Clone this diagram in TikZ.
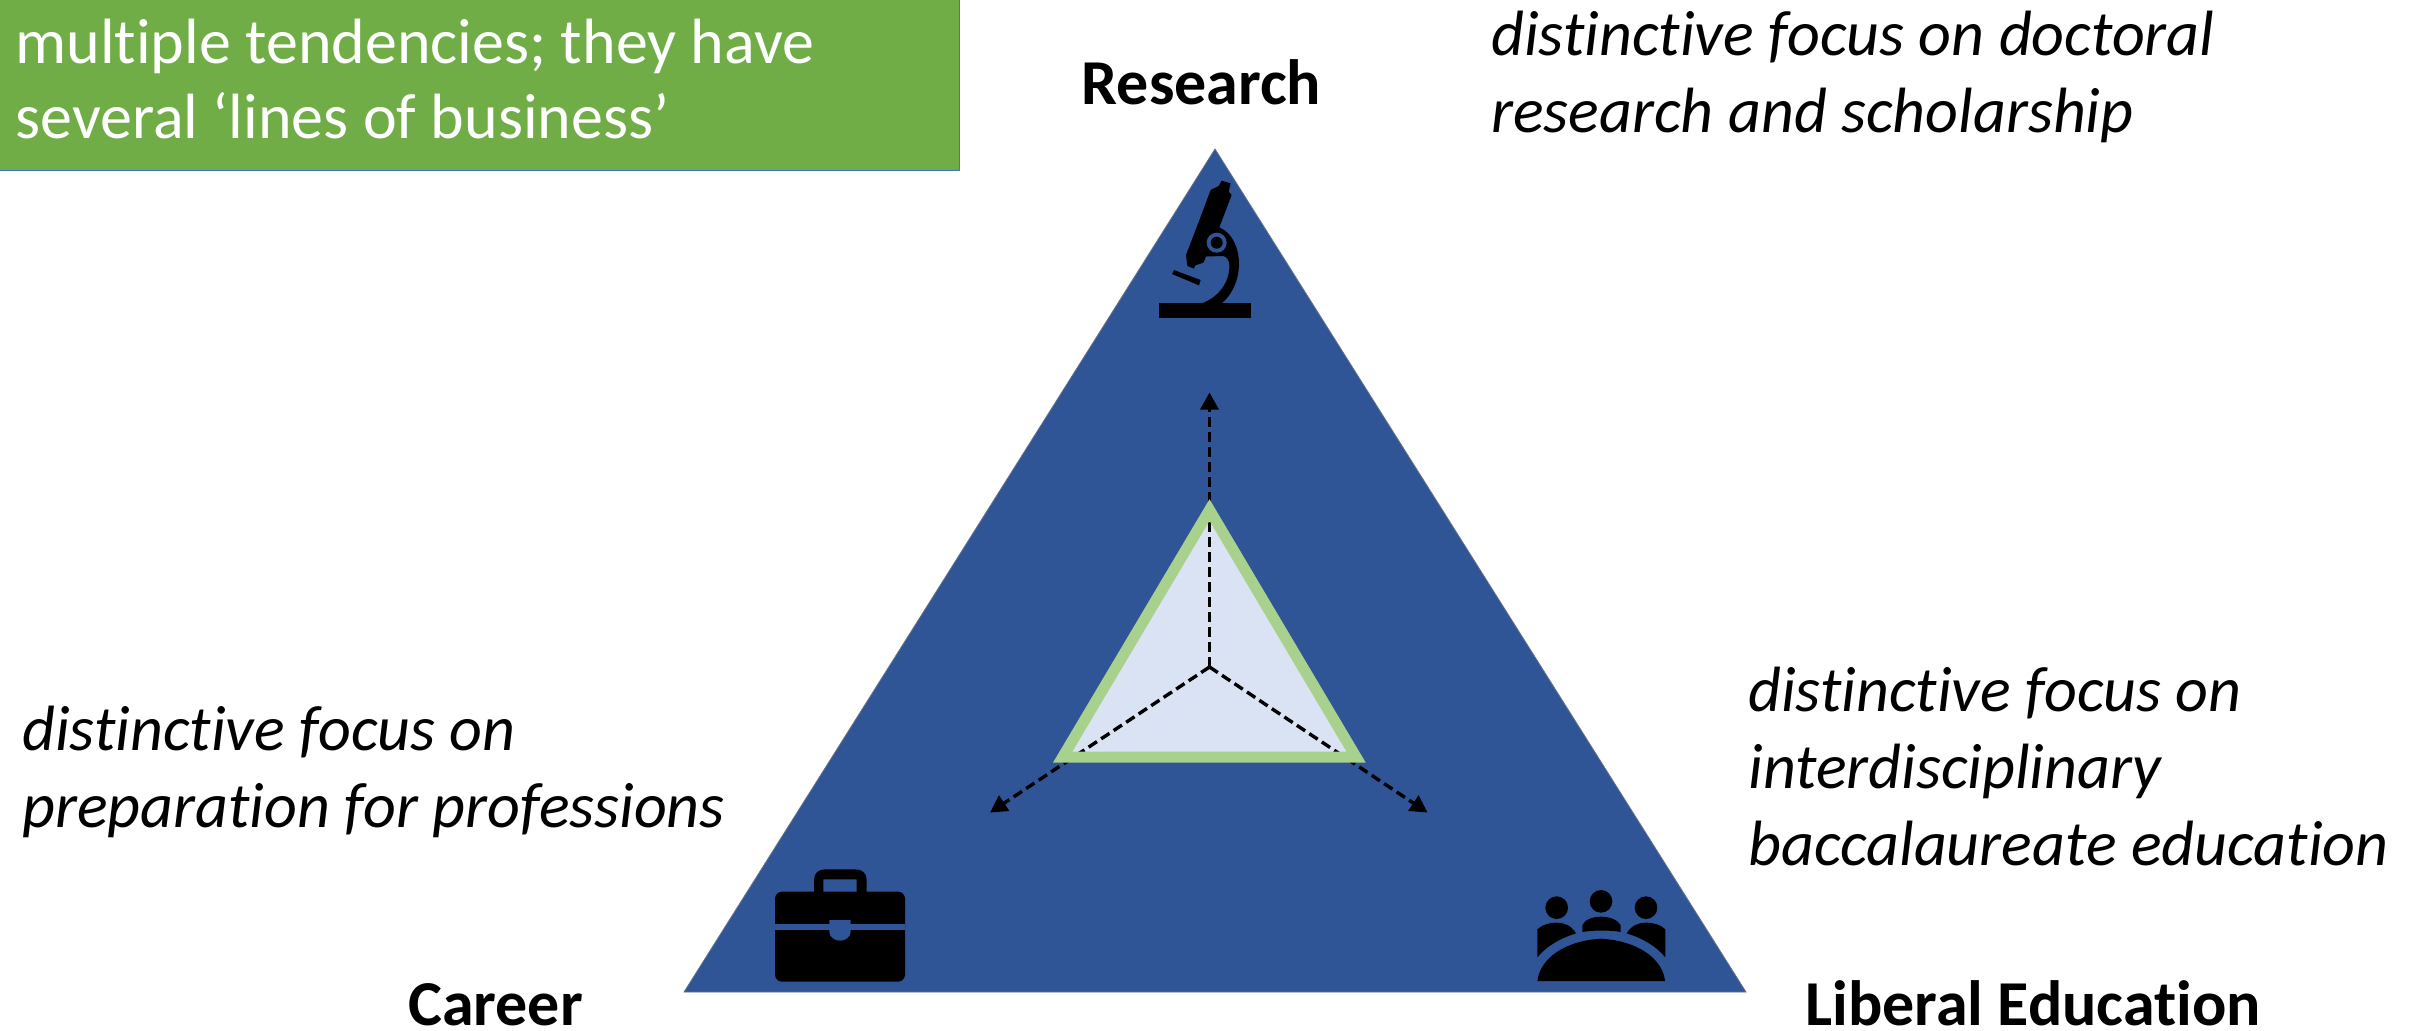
\documentclass[tikz,border=0pt]{standalone}
\usepackage{fontspec}
\setmainfont{Carlito}[Ligatures=NoCommon]
\usetikzlibrary{arrows.meta}
\definecolor{bigblue}{HTML}{2F5597}
\definecolor{lightblue}{HTML}{DAE3F3}
\definecolor{softgreen}{HTML}{A9D18E}
\definecolor{boxgreen}{HTML}{70AD47}
\definecolor{boxedge}{HTML}{4472C4}
\tikzset{
  x=0.5pt,y=-0.5pt,
  bigtri/.style={fill=bigblue,draw=gray!70!bigblue,line width=0.4pt},
  dasharrow/.style={black,line width=1.7pt,dash pattern=on 5pt off 2.5pt,-{Triangle[length=8.5pt,width=9pt]}},
  para/.style={anchor=base west,inner sep=0pt,align=left,font=\fontsize{32}{38.5}\selectfont\itshape,text=black},
  vertex/.style={anchor=base,inner sep=0pt,text depth=0pt,font=\fontsize{32}{34}\selectfont\bfseries,text=black},
  icon/.style={fill=black,draw=none},
  cut/.style={fill=bigblue,draw=none},
  iconscale/.style={x=0.16667pt,y=-0.16667pt}
}
\begin{document}
\begin{tikzpicture}
\useasboundingbox (0,0) rectangle (2415,1030);
\fill[white] (0,0) rectangle (2415,1030);

% green box
\node[anchor=north west,minimum width=480.5pt,minimum height=86pt,inner sep=0pt,fill=boxgreen,draw=boxedge,line width=0.3pt] (box) at (-2,-2) {};
\node[anchor=base west,inner sep=0pt,align=left,text=white,font=\fontsize{32}{37.5}\selectfont] (boxtext) at (15,138.5) {multiple tendencies; they have\\several ‘lines of business’};

% large triangle
\coordinate (A) at (1215,149);
\coordinate (B) at (684,992);
\coordinate (C) at (1746,992);
\draw[bigtri] (A) -- (B) -- (C) -- cycle;

% inner triangle and arrows
\coordinate (a) at (1209.5,510);
\coordinate (b) at (1062.7,757);
\coordinate (c) at (1356,757);
\coordinate (O) at (1209.5,667);
\coordinate (ta) at (1209.5,392.5);
\coordinate (tb) at (990,812.5);
\coordinate (tc) at (1427.5,812.5);
\fill[lightblue] (a) -- (b) -- (c) -- cycle;
\draw[dasharrow] (O) -- (ta);
\draw[dasharrow] (O) -- (tb);
\draw[dasharrow] (O) -- (tc);
\draw[softgreen,line width=5.5pt,miter limit=10] (a) -- (b) -- (c) -- cycle;

% microscope
\begin{scope}[xshift=560pt,yshift=-70pt,iconscale]
  \fill[icon] (118,490) rectangle (393,533);
  \fill[icon] (298,262) .. controls (340,280) and (358,330) .. (357,375) .. controls (355,430) and (330,470) .. (305,490) -- (245,490) .. controls (290,475) and (330,430) .. (328,375) .. controls (327,360) and (320,350) .. (310,348) -- (240,350) -- cycle;
  \fill[icon] (305,122) -- (332,130) -- (326,155) -- (335,165) -- (298,262) -- (250,368) -- (226,376) -- (222,386) -- (202,378) -- (198,345) -- (240,235) -- (272,150) -- (296,138) -- cycle;
  \fill[cut] (290,308) circle[radius=30];
  \fill[icon] (290,308) circle[radius=18];
  \fill[icon] (162,390) -- (242,420) -- (237,436) -- (156,402) -- cycle;
\end{scope}

% briefcase
\begin{scope}[xshift=370pt,yshift=-425pt,iconscale]
  \fill[icon] (222,130) -- (222,90) .. controls (222,70) and (235,58) .. (255,58) -- (347,58) .. controls (367,58) and (380,70) .. (380,90) -- (380,130) -- (350,130) -- (350,88) -- (250,88) -- (250,130) -- cycle;
  \fill[icon,rounded corners=3.5pt] (105,125) rectangle (495,395);
  \fill[cut] (105,222) rectangle (495,240);
  \fill[cut] (268,210) -- (332,210) -- (332,245) .. controls (332,262) and (315,272) .. (300,272) .. controls (285,272) and (268,262) .. (268,245) -- cycle;
\end{scope}

% people round a table
\begin{scope}[xshift=755pt,yshift=-435pt,iconscale]
  \fill[icon] (140,113) circle[radius=34];
  \fill[icon] (273,94) circle[radius=34];
  \fill[icon] (408,113) circle[radius=34];
  \fill[icon] (82,262) -- (82,178) .. controls (95,165) and (115,158) .. (140,158) .. controls (165,158) and (185,168) .. (198,190) .. controls (150,205) and (110,228) .. (82,262) -- cycle;
  \fill[icon] (466,262) -- (466,178) .. controls (453,165) and (433,158) .. (408,158) .. controls (383,158) and (363,168) .. (350,190) .. controls (398,205) and (438,228) .. (466,262) -- cycle;
  \fill[icon] (217,186) -- (217,165) .. controls (225,148) and (250,140) .. (273,140) .. controls (296,140) and (322,148) .. (332,165) -- (332,186) .. controls (300,180) and (250,180) .. (217,186) -- cycle;
  \fill[icon] (82,333) .. controls (90,265) and (165,212) .. (273,206) .. controls (381,212) and (458,265) .. (465,333) -- cycle;
\end{scope}

% labels
\node[vertex] (research) at (1201.5,104) {Research};
\node[vertex] (career) at (495.5,1025) {Career};
\node[vertex] (liberal) at (2033,1025) {Liberal Education};
\node[para] (tr) at (1491,132.5) {distinctive focus on doctoral\\research and scholarship};
\node[para] (tl) at (22,827) {distinctive focus on\\preparation for professions};
\node[para] (trr) at (1748,865) {distinctive focus on\\interdisciplinary\\baccalaureate education};
\end{tikzpicture}
\end{document}
